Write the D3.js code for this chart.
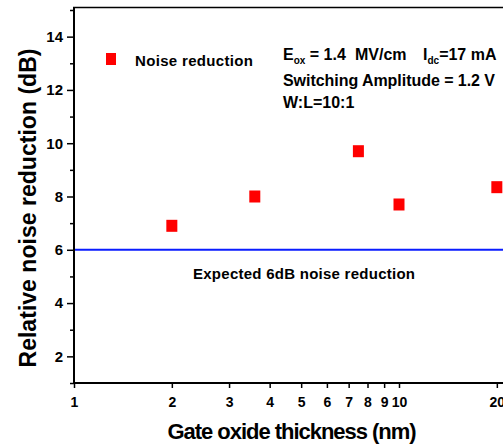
<!DOCTYPE html>
<html>
<head>
<meta charset="utf-8">
<script src="https://cdn.jsdelivr.net/npm/d3@7"></script>
<style>
  body { margin: 0; background: #fff; }
  svg { display: block; font-family: "Liberation Sans", Arial, sans-serif; font-weight: bold; }
</style>
</head>
<body>
<svg id="chart"></svg>
<script>
// Data
const thickness = [2, 3.6, 7.5, 10, 20];           // nm
const reduction = [6.9, 8.0, 9.7, 7.7, 8.35];      // dB
const expected = 6;
const xTicks = [1, 2, 3, 4, 5, 6, 7, 8, 9, 10, 20];
const yTicks = [1, 2, 3, 4, 5, 6, 7, 8, 9, 10, 11, 12, 13, 14, 15];

const width = 503;
const height = 446;

const svg = d3.select("#chart")
  .attr("width", width)
  .attr("height", height);

// Scales (plot runs past the right edge, as in the original crop)
const x = d3.scaleLog().domain([1, 10]).range([74, 399]);
const y = d3.scaleLinear().domain([1, 15]).range([383, 10]);

// Expected line
svg.append("line")
  .attr("x1", x(1)).attr("x2", width + 20)
  .attr("y1", y(expected)).attr("y2", y(expected))
  .attr("stroke", "#0a1cff")
  .attr("stroke-width", 2);

svg.append("text")
  .attr("x", 193).attr("y", 279)
  .attr("font-size", 15)
  .attr("textLength", 222)
  .text("Expected 6dB noise reduction");

// Top frame line
svg.append("line")
  .attr("x1", x(1) - 1).attr("x2", width)
  .attr("y1", 7.5).attr("y2", 7.5)
  .attr("stroke", "#000")
  .attr("stroke-width", 1.6);

// Y axis
const yAxis = svg.append("g")
  .attr("transform", `translate(${x(1)},0)`)
  .call(d3.axisLeft(y)
    .tickValues(yTicks)
    .tickSizeOuter(0)
    .tickFormat(d => d % 2 === 0 ? d : ""));
yAxis.select(".domain").attr("stroke-width", 2).attr("d", `M0,${y(15) - 2}V${y(1) + 1}`);
yAxis.selectAll(".tick line")
  .attr("stroke-width", 1.5)
  .attr("x2", d => d % 2 === 0 ? -7 : -4);
yAxis.selectAll(".tick text")
  .attr("x", -11)
  .attr("font-size", 15)
  .attr("font-weight", "bold")
  .attr("font-family", "Liberation Sans, Arial, sans-serif");

// X axis
const xAxis = svg.append("g")
  .attr("transform", `translate(0,${y(1)})`)
  .call(d3.axisBottom(x)
    .tickValues(xTicks)
    .tickSizeOuter(0)
    .tickSize(5)
    .tickFormat(d3.format("d")));
xAxis.select(".domain").attr("stroke-width", 2).attr("d", `M${x(1) - 1},0H${width + 20}`);
xAxis.selectAll(".tick line").attr("stroke-width", 1.5);
xAxis.selectAll(".tick text")
  .attr("y", 14)
  .attr("font-size", 14)
  .attr("font-weight", "bold")
  .attr("font-family", "Liberation Sans, Arial, sans-serif");

// Points
const pts = thickness.map((t, i) => ({ t, r: reduction[i] }));
svg.selectAll("rect.pt")
  .data(pts)
  .enter().append("rect")
  .attr("class", "pt")
  .attr("x", d => x(d.t) - 5.5)
  .attr("y", d => y(d.r) - 6)
  .attr("width", 11)
  .attr("height", 12)
  .attr("fill", "#ff0000");

// Legend
svg.append("rect")
  .attr("x", 106).attr("y", 53)
  .attr("width", 10).attr("height", 12)
  .attr("fill", "#ff0000");
svg.append("text")
  .attr("x", 135).attr("y", 66)
  .attr("font-size", 15)
  .attr("textLength", 118)
  .text("Noise reduction");

// Conditions note
const note = svg.append("g").attr("font-size", 16);
const l1 = note.append("text").attr("y", 60);
l1.append("tspan").attr("x", 283).text("E");
l1.append("tspan").attr("font-size", 10).attr("dy", 4).text("ox");
l1.append("tspan").attr("dy", -4).text(" = 1.4");
l1.append("tspan").attr("x", 355).text("MV/cm");
l1.append("tspan").attr("x", 423).text("I");
l1.append("tspan").attr("font-size", 10).attr("dy", 4).text("dc");
l1.append("tspan").attr("dy", -4).text("=17 mA");
note.append("text").attr("x", 283).attr("y", 86)
  .attr("textLength", 212)
  .text("Switching Amplitude = 1.2 V");
note.append("text").attr("x", 283).attr("y", 108)
  .text("W:L=10:1");

// Axis titles
svg.append("text")
  .attr("x", 292).attr("y", 439)
  .attr("text-anchor", "middle")
  .attr("font-size", 22)
  .attr("textLength", 249)
  .text("Gate oxide thickness (nm)");

svg.append("text")
  .attr("transform", "translate(36,208) rotate(-90)")
  .attr("text-anchor", "middle")
  .attr("font-size", 23)
  .attr("textLength", 319)
  .text("Relative noise reduction (dB)");
</script>
</body>
</html>
